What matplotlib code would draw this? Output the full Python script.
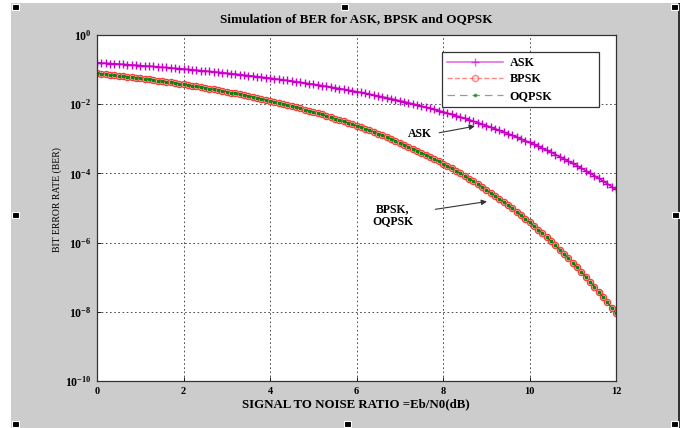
import numpy as np
import matplotlib
matplotlib.use("Agg")
import matplotlib.pyplot as plt
from matplotlib.patches import Rectangle

plt.rcParams["font.family"] = ["Liberation Serif", "DejaVu Serif"]
plt.rcParams["mathtext.fontset"] = "custom"
plt.rcParams["mathtext.rm"] = "Liberation Serif:bold"
plt.rcParams["mathtext.bf"] = "Liberation Serif:bold"

# Eb/N0 in dB, one sample every 0.1 dB
snr_db = np.round(np.arange(121) * 0.1, 1)

ask_ber = [
    0.159, 0.156, 0.153, 0.150, 0.148, 0.145, 0.142, 0.139, 0.136, 0.134,
    0.131, 0.128, 0.126, 0.123, 0.120, 0.117, 0.115, 0.112, 0.109, 0.107,
    0.104, 0.101, 0.0988, 0.0963, 0.0937, 0.0912, 0.0887, 0.0862, 0.0838, 0.0813,
    0.0789, 0.0765, 0.0742, 0.0719, 0.0696, 0.0673, 0.0651, 0.0629, 0.0607, 0.0586,
    0.0565, 0.0545, 0.0524, 0.0505, 0.0485, 0.0466, 0.0447, 0.0429, 0.0411, 0.0394,
    0.0377, 0.0360, 0.0344, 0.0328, 0.0313, 0.0298, 0.0284, 0.0270, 0.0256, 0.0243,
    0.0230, 0.0218, 0.0206, 0.0195, 0.0183, 0.0173, 0.0163, 0.0153, 0.0144, 0.0135,
    0.0126, 0.0118, 0.0110, 0.0102, 0.00954, 0.00886, 0.00823, 0.00762, 0.00705, 0.00651,
    0.00601, 0.00553, 0.00508, 0.00466, 0.00427, 0.00390, 0.00356, 0.00324, 0.00294, 0.00267,
    0.00241, 0.00218, 0.00196, 0.00177, 0.00158, 0.00142, 0.00126, 0.00113, 0.00100, 8.86e-4,
    7.83e-4, 6.90e-4, 6.07e-4, 5.32e-4, 4.65e-4, 4.05e-4, 3.51e-4, 3.05e-4, 2.63e-4, 2.26e-4,
    1.94e-4, 1.66e-4, 1.41e-4, 1.20e-4, 1.01e-4, 8.56e-5, 7.19e-5, 6.01e-5, 5.01e-5, 4.15e-5,
    3.43e-5,
]

bpsk_ber = [
    0.0787, 0.0763, 0.0739, 0.0716, 0.0693, 0.0671, 0.0649, 0.0627, 0.0605, 0.0584,
    0.0563, 0.0543, 0.0522, 0.0503, 0.0483, 0.0464, 0.0445, 0.0427, 0.0409, 0.0392,
    0.0375, 0.0359, 0.0342, 0.0327, 0.0311, 0.0297, 0.0282, 0.0268, 0.0255, 0.0241,
    0.0229, 0.0217, 0.0205, 0.0193, 0.0182, 0.0172, 0.0162, 0.0152, 0.0143, 0.0134,
    0.0125, 0.0117, 0.0109, 0.0102, 0.00947, 0.00880, 0.00816, 0.00756, 0.00699, 0.00646,
    0.00595, 0.00548, 0.00504, 0.00462, 0.00423, 0.00386, 0.00352, 0.00321, 0.00291, 0.00264,
    0.00239, 0.00216, 0.00194, 0.00175, 0.00157, 0.00140, 0.00125, 0.00111, 9.88e-4, 8.75e-4,
    7.73e-4, 6.81e-4, 5.98e-4, 5.24e-4, 4.58e-4, 3.99e-4, 3.46e-4, 3.00e-4, 2.59e-4, 2.23e-4,
    1.91e-4, 1.63e-4, 1.39e-4, 1.18e-4, 9.97e-5, 8.40e-5, 7.05e-5, 5.90e-5, 4.91e-5, 4.07e-5,
    3.36e-5, 2.77e-5, 2.27e-5, 1.85e-5, 1.50e-5, 1.21e-5, 9.74e-6, 7.79e-6, 6.20e-6, 4.91e-6,
    3.87e-6, 3.03e-6, 2.37e-6, 1.84e-6, 1.41e-6, 1.08e-6, 8.26e-7, 6.25e-7, 4.71e-7, 3.52e-7,
    2.61e-7, 1.93e-7, 1.41e-7, 1.03e-7, 7.43e-8, 5.33e-8, 3.79e-8, 2.68e-8, 1.88e-8, 1.31e-8,
    9.01e-9,
]

# OQPSK lies right on top of BPSK in the picture
oqpsk_ber = list(bpsk_ber)

x_ticks = [0, 2, 4, 6, 8, 10, 12]
y_ticks = [1e-10, 1e-8, 1e-6, 1e-4, 1e-2, 1e0]
y_ticklabels = [r"$\mathbf{10^{-10}}$", r"$\mathbf{10^{-8}}$", r"$\mathbf{10^{-6}}$",
                r"$\mathbf{10^{-4}}$", r"$\mathbf{10^{-2}}$", r"$\mathbf{10^{0}}$"]

W, H = 684, 428
fig = plt.figure(figsize=(W / 100, H / 100), dpi=100, facecolor="white")

# grey MATLAB figure window with the selection handles
fig.patches.append(Rectangle((11 / W, 0), 667 / W, 1 - 3 / H, transform=fig.transFigure,
                             facecolor="#cccccc", edgecolor="none", zorder=-10))
fig.patches.append(Rectangle((678 / W, 0), 1.5 / W, 1 - 3 / H, transform=fig.transFigure,
                             facecolor="#333333", edgecolor="none", zorder=-9))
for hx, hy in [(12, 4), (341, 4), (671, 4), (12, 212), (672, 212),
               (12, 421), (344, 421), (671, 421)]:
    fig.patches.append(Rectangle((hx / W, 1 - (hy + 6) / H), 7 / W, 6 / H,
                                 transform=fig.transFigure, facecolor="black",
                                 edgecolor="white", linewidth=0.8, zorder=5))

ax = fig.add_axes([97 / W, 1 - 381 / H, 519 / W, 346 / H])
ax.set_facecolor("white")

ax.semilogy(snr_db, ask_ber, color="#c800c8", marker="+", markersize=5.5,
            markeredgewidth=1.0, linewidth=1.1, label="ASK")
ax.semilogy(snr_db, bpsk_ber, color="#ff3a3a", linestyle="--", marker="o",
            markersize=4.5, markerfacecolor="#ffc8c8", markeredgewidth=0.9,
            linewidth=1.0, label="BPSK")
ax.semilogy(snr_db, oqpsk_ber, color="#128012", linestyle="--", marker=".",
            markersize=3.5, linewidth=0.9, dashes=(6, 4), label="OQPSK")

ax.set_xlim(0, 12)
ax.set_ylim(1e-10, 1e0)
ax.set_xticks(x_ticks)
ax.set_xticklabels([str(t) for t in x_ticks], fontweight="bold", fontsize=7.5)
ax.set_yticks(y_ticks)
ax.set_yticklabels(y_ticklabels, fontsize=8.5)
ax.yaxis.set_minor_locator(matplotlib.ticker.NullLocator())
ax.tick_params(direction="in", length=3, width=0.6, pad=4)
ax.grid(True, which="major", color="#333333", linestyle=(0, (2, 3)), linewidth=0.6)
for s in ax.spines.values():
    s.set_linewidth(0.9)
    s.set_color("#333333")

ax.set_title("Simulation of BER for ASK, BPSK and OQPSK", fontsize=9.5,
             fontweight="bold", pad=9)
fig.text(356 / W, 1 - 404 / H, "SIGNAL TO NOISE RATIO =Eb/N0(dB)", ha="center",
         va="center", fontsize=9.3, fontweight="bold")
fig.text(57 / W, 1 - 200 / H, "BIT ERROR RATE (BER)", ha="center", va="center",
         rotation=90, fontsize=7)

leg = ax.legend(loc="upper left", bbox_to_anchor=(0.665, 0.803, 0.302, 0.148),
                mode="expand", borderaxespad=0,
                fancybox=False, edgecolor="#333333", framealpha=1, numpoints=1,
                handlelength=4.6, handletextpad=0.6, borderpad=0.4, labelspacing=0.38,
                prop={"weight": "bold", "size": 8.7})
leg.get_frame().set_linewidth(0.9)
for h in leg.get_lines():
    h.set_alpha(0.6)

# text labels with arrows
ax.text(7.47, 10 ** -2.86, "ASK", ha="center", va="center", fontsize=8.5, fontweight="bold")
ax.annotate("", xy=(8.8, 10 ** -2.62), xytext=(7.85, 10 ** -2.84),
            arrowprops=dict(arrowstyle="-|>", color="#333333", lw=0.8,
                            mutation_scale=8))
ax.text(6.84, 10 ** -5.2, "BPSK,\nOQPSK", ha="center", va="center", fontsize=8.5,
        fontweight="bold", linespacing=1.0)
ax.annotate("", xy=(9.08, 10 ** -4.8), xytext=(7.76, 10 ** -5.05),
            arrowprops=dict(arrowstyle="-|>", color="#333333", lw=0.8,
                            mutation_scale=8))

fig.savefig("out.png", dpi=100, facecolor=fig.get_facecolor())
